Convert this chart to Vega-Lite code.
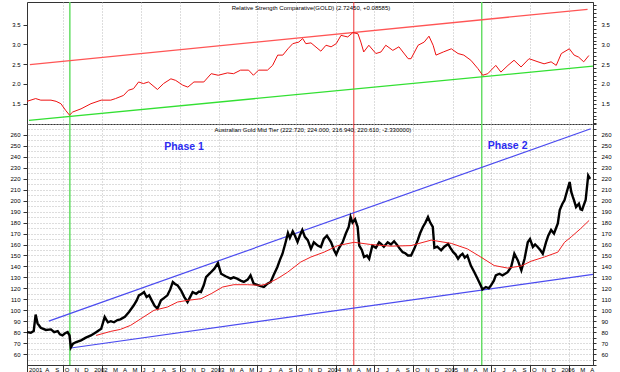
{
  "$schema": "https://vega.github.io/schema/vega-lite/v6.json",
  "padding": 0,
  "spacing": 0,
  "bounds": "flush",
  "background": "white",
  "config": {
    "font": "Liberation Sans",
    "view": {"stroke": "#333", "strokeWidth": 1},
    "axis": {"labelFont": "Liberation Sans", "labelFontSize": 6, "labelColor": "#000", "domainColor": "#333", "tickColor": "#333", "labelFlush": false, "labelBound": false, "title": null}
  },
  "datasets": {
    "vlines": [
      {"d": "2001-10-23", "kind": "trough"},
      {"d": "2004-03-29", "kind": "peak"},
      {"d": "2005-05-03", "kind": "trough"}
    ],
    "months": [
      {"d":"2001-06-11","t":"2001"},{"d":"2001-08-01","t":"A"},{"d":"2001-09-01","t":"S"},{"d":"2001-10-01","t":"O"},{"d":"2001-11-01","t":"N"},{"d":"2001-12-01","t":"D"},
      {"d":"2002-01-01","t":"2002"},{"d":"2002-03-01","t":"M"},{"d":"2002-04-01","t":"A"},{"d":"2002-05-01","t":"M"},{"d":"2002-06-01","t":"J"},{"d":"2002-07-01","t":"J"},{"d":"2002-08-01","t":"A"},{"d":"2002-09-01","t":"S"},{"d":"2002-10-01","t":"O"},{"d":"2002-11-01","t":"N"},{"d":"2002-12-01","t":"D"},
      {"d":"2003-01-01","t":"2003"},{"d":"2003-03-01","t":"M"},{"d":"2003-04-01","t":"A"},{"d":"2003-05-01","t":"M"},{"d":"2003-06-01","t":"J"},{"d":"2003-07-01","t":"J"},{"d":"2003-08-01","t":"A"},{"d":"2003-09-01","t":"S"},{"d":"2003-10-01","t":"O"},{"d":"2003-11-01","t":"N"},{"d":"2003-12-01","t":"D"},
      {"d":"2004-01-01","t":"2004"},{"d":"2004-03-01","t":"M"},{"d":"2004-04-01","t":"A"},{"d":"2004-05-01","t":"M"},{"d":"2004-06-01","t":"J"},{"d":"2004-07-01","t":"J"},{"d":"2004-08-01","t":"A"},{"d":"2004-09-01","t":"S"},{"d":"2004-10-01","t":"O"},{"d":"2004-11-01","t":"N"},{"d":"2004-12-01","t":"D"},
      {"d":"2005-01-01","t":"2005"},{"d":"2005-03-01","t":"M"},{"d":"2005-04-01","t":"A"},{"d":"2005-05-01","t":"M"},{"d":"2005-06-01","t":"J"},{"d":"2005-07-01","t":"J"},{"d":"2005-08-01","t":"A"},{"d":"2005-09-01","t":"S"},{"d":"2005-10-01","t":"O"},{"d":"2005-11-01","t":"N"},{"d":"2005-12-01","t":"D"},
      {"d":"2006-01-01","t":"2006"},{"d":"2006-03-01","t":"M"},{"d":"2006-04-01","t":"A"}
    ],
    "rs": [
      {"d":"2001-06-11","v":1.56},{"d":"2001-07-08","v":1.63},{"d":"2001-07-24","v":1.59},{"d":"2001-08-25","v":1.59},
      {"d":"2001-09-10","v":1.56},{"d":"2001-09-25","v":1.50},{"d":"2001-10-10","v":1.33},{"d":"2001-10-22","v":1.21},
      {"d":"2001-11-01","v":1.29},{"d":"2001-11-27","v":1.37},{"d":"2001-12-28","v":1.50},{"d":"2002-01-29","v":1.59},
      {"d":"2002-02-28","v":1.59},{"d":"2002-03-15","v":1.63},{"d":"2002-04-09","v":1.71},{"d":"2002-04-24","v":1.84},
      {"d":"2002-05-10","v":1.88},{"d":"2002-05-26","v":2.05},{"d":"2002-06-10","v":2.01},{"d":"2002-06-26","v":2.05},
      {"d":"2002-07-24","v":1.86},{"d":"2002-08-12","v":2.01},{"d":"2002-09-04","v":2.13},{"d":"2002-09-19","v":2.09},
      {"d":"2002-10-11","v":1.97},{"d":"2002-10-27","v":1.92},{"d":"2002-11-15","v":2.05},{"d":"2002-12-16","v":2.05},
      {"d":"2003-01-08","v":2.26},{"d":"2003-01-30","v":2.22},{"d":"2003-02-28","v":2.28},{"d":"2003-03-19","v":2.26},
      {"d":"2003-04-10","v":2.35},{"d":"2003-05-05","v":2.35},{"d":"2003-05-20","v":2.22},{"d":"2003-06-05","v":2.35},
      {"d":"2003-07-03","v":2.35},{"d":"2003-07-19","v":2.47},{"d":"2003-08-04","v":2.73},{"d":"2003-08-20","v":2.73},
      {"d":"2003-09-05","v":2.89},{"d":"2003-09-20","v":3.02},{"d":"2003-10-09","v":3.06},{"d":"2003-10-21","v":3.15},
      {"d":"2003-10-31","v":3.02},{"d":"2003-11-16","v":3.04},{"d":"2003-12-17","v":2.83},{"d":"2004-01-02","v":2.98},
      {"d":"2004-01-18","v":2.94},{"d":"2004-02-03","v":3.02},{"d":"2004-02-18","v":3.23},{"d":"2004-03-10","v":3.19},
      {"d":"2004-03-26","v":3.30},{"d":"2004-04-11","v":3.27},{"d":"2004-04-20","v":3.06},{"d":"2004-04-29","v":2.81},
      {"d":"2004-05-15","v":2.98},{"d":"2004-06-06","v":2.77},{"d":"2004-06-22","v":2.81},{"d":"2004-07-07","v":2.98},
      {"d":"2004-07-29","v":2.85},{"d":"2004-08-17","v":2.94},{"d":"2004-09-15","v":2.64},{"d":"2004-09-24","v":2.64},
      {"d":"2004-10-16","v":2.98},{"d":"2004-11-04","v":3.06},{"d":"2004-11-19","v":3.21},{"d":"2004-12-02","v":2.98},
      {"d":"2004-12-11","v":2.73},{"d":"2005-01-03","v":2.81},{"d":"2005-01-28","v":2.89},{"d":"2005-02-18","v":2.77},
      {"d":"2005-03-08","v":2.73},{"d":"2005-03-30","v":2.60},{"d":"2005-04-21","v":2.39},{"d":"2005-05-06","v":2.22},
      {"d":"2005-05-22","v":2.26},{"d":"2005-06-16","v":2.47},{"d":"2005-07-02","v":2.30},{"d":"2005-07-24","v":2.47},
      {"d":"2005-08-12","v":2.60},{"d":"2005-09-03","v":2.43},{"d":"2005-09-28","v":2.64},{"d":"2005-10-26","v":2.56},
      {"d":"2005-11-14","v":2.51},{"d":"2005-12-06","v":2.56},{"d":"2005-12-22","v":2.47},{"d":"2006-01-07","v":2.77},
      {"d":"2006-02-01","v":2.89},{"d":"2006-02-16","v":2.73},{"d":"2006-03-02","v":2.68},{"d":"2006-03-18","v":2.56},
      {"d":"2006-04-03","v":2.72}
    ],
    "rsup": [{"d":"2001-06-20","v":2.49},{"d":"2006-03-30","v":3.89}],
    "rslow": [{"d":"2001-06-17","v":1.08},{"d":"2006-04-16","v":2.45}],
    "blueup": [{"d":"2001-08-18","v":90.1},{"d":"2006-04-09","v":265.7}],
    "bluelow": [{"d":"2001-10-26","v":65.5},{"d":"2006-04-16","v":132.7}],
    "price": [
      {"d":"2001-06-11","v":80},{"d":"2001-06-23","v":79.5},{"d":"2001-07-02","v":81},{"d":"2001-07-08","v":96},
      {"d":"2001-07-14","v":88},{"d":"2001-07-24","v":84},{"d":"2001-08-09","v":82},{"d":"2001-08-25","v":82.5},
      {"d":"2001-09-04","v":80},{"d":"2001-09-15","v":81},{"d":"2001-09-22","v":78},{"d":"2001-09-30","v":77},
      {"d":"2001-10-08","v":79},{"d":"2001-10-16","v":80},{"d":"2001-10-22","v":77},{"d":"2001-10-26","v":66},
      {"d":"2001-11-02","v":69.4},{"d":"2001-11-12","v":71},{"d":"2001-11-27","v":72.5},{"d":"2001-12-12","v":75},
      {"d":"2001-12-28","v":77},{"d":"2002-01-13","v":80},{"d":"2002-01-29","v":83},{"d":"2002-02-09","v":93.8},
      {"d":"2002-02-19","v":89},{"d":"2002-02-28","v":90},{"d":"2002-03-10","v":89},{"d":"2002-03-21","v":91},
      {"d":"2002-03-30","v":91.7},{"d":"2002-04-13","v":94},{"d":"2002-04-26","v":98.4},{"d":"2002-05-11","v":104.5},
      {"d":"2002-05-20","v":109},{"d":"2002-05-27","v":113.6},{"d":"2002-06-05","v":115},{"d":"2002-06-12","v":116.6},
      {"d":"2002-06-20","v":112},{"d":"2002-06-28","v":113.6},{"d":"2002-07-06","v":109},{"d":"2002-07-15","v":104},
      {"d":"2002-07-24","v":101.4},{"d":"2002-08-04","v":109},{"d":"2002-08-13","v":111},{"d":"2002-08-24","v":113.6},
      {"d":"2002-09-02","v":119},{"d":"2002-09-10","v":125.8},{"d":"2002-09-17","v":124},{"d":"2002-09-25","v":122.7},
      {"d":"2002-10-06","v":118},{"d":"2002-10-16","v":112},{"d":"2002-10-26","v":107.5},{"d":"2002-11-03","v":112},
      {"d":"2002-11-11","v":116.6},{"d":"2002-11-22","v":115},{"d":"2002-12-01","v":117},{"d":"2002-12-07","v":116.6},
      {"d":"2002-12-16","v":123},{"d":"2002-12-23","v":130.3},{"d":"2003-01-05","v":134},{"d":"2003-01-18","v":137.9},
      {"d":"2003-01-29","v":143},{"d":"2003-02-08","v":133.3},{"d":"2003-02-22","v":131},{"d":"2003-03-10","v":128.8},
      {"d":"2003-03-19","v":130},{"d":"2003-03-30","v":128.8},{"d":"2003-04-10","v":127},{"d":"2003-04-20","v":125.8},
      {"d":"2003-05-02","v":128},{"d":"2003-05-11","v":131.9},{"d":"2003-05-21","v":124.2},{"d":"2003-06-03","v":123},
      {"d":"2003-06-12","v":122},{"d":"2003-06-22","v":121.2},{"d":"2003-07-03","v":124.2},{"d":"2003-07-13","v":125.8},
      {"d":"2003-07-22","v":132},{"d":"2003-08-03","v":139.5},{"d":"2003-08-11","v":146},{"d":"2003-08-19","v":151.6},
      {"d":"2003-08-29","v":162.3},{"d":"2003-09-05","v":170.5},{"d":"2003-09-11","v":166},{"d":"2003-09-20","v":172},
      {"d":"2003-09-27","v":168},{"d":"2003-10-05","v":162.3},{"d":"2003-10-12","v":168},{"d":"2003-10-20","v":173.3},
      {"d":"2003-10-28","v":167},{"d":"2003-11-06","v":164},{"d":"2003-11-16","v":156},{"d":"2003-11-25","v":162},
      {"d":"2003-12-07","v":159},{"d":"2003-12-17","v":157.7},{"d":"2003-12-26","v":165},{"d":"2004-01-05","v":168},
      {"d":"2004-01-18","v":162},{"d":"2004-01-27","v":155},{"d":"2004-02-03","v":151},{"d":"2004-02-12","v":157},
      {"d":"2004-02-23","v":162},{"d":"2004-03-04","v":170},{"d":"2004-03-13","v":176},{"d":"2004-03-19","v":185},
      {"d":"2004-03-25","v":180},{"d":"2004-04-02","v":183},{"d":"2004-04-10","v":176},{"d":"2004-04-15","v":159},
      {"d":"2004-04-23","v":155},{"d":"2004-04-30","v":148.6},{"d":"2004-05-09","v":150},{"d":"2004-05-16","v":147},
      {"d":"2004-05-26","v":159},{"d":"2004-06-06","v":157},{"d":"2004-06-16","v":162},{"d":"2004-06-22","v":160.5},
      {"d":"2004-07-01","v":158},{"d":"2004-07-13","v":162},{"d":"2004-07-23","v":160},{"d":"2004-08-02","v":163},
      {"d":"2004-08-13","v":159},{"d":"2004-08-20","v":156},{"d":"2004-08-29","v":153},{"d":"2004-09-06","v":152},
      {"d":"2004-09-14","v":150},{"d":"2004-09-24","v":150},{"d":"2004-10-04","v":156},{"d":"2004-10-15","v":164},
      {"d":"2004-10-22","v":170},{"d":"2004-10-31","v":176},{"d":"2004-11-08","v":180},{"d":"2004-11-16","v":185},
      {"d":"2004-11-23","v":180},{"d":"2004-12-01","v":176},{"d":"2004-12-06","v":157},{"d":"2004-12-15","v":158},
      {"d":"2004-12-27","v":154.7},{"d":"2005-01-06","v":158},{"d":"2005-01-18","v":160.5},{"d":"2005-01-25","v":157},
      {"d":"2005-02-03","v":153},{"d":"2005-02-10","v":151},{"d":"2005-02-18","v":147},{"d":"2005-02-25","v":150},
      {"d":"2005-03-04","v":151.6},{"d":"2005-03-11","v":148},{"d":"2005-03-19","v":150},{"d":"2005-03-30","v":140.8},
      {"d":"2005-04-10","v":134.7},{"d":"2005-04-20","v":128.8},{"d":"2005-04-30","v":122.7},{"d":"2005-05-05","v":119},
      {"d":"2005-05-16","v":121.2},{"d":"2005-05-25","v":120},{"d":"2005-06-01","v":122.7},{"d":"2005-06-10","v":127},
      {"d":"2005-06-16","v":131.9},{"d":"2005-06-27","v":133.3},{"d":"2005-07-07","v":131.9},{"d":"2005-07-14","v":133},
      {"d":"2005-07-23","v":134.7},{"d":"2005-08-03","v":139.5},{"d":"2005-08-13","v":151.6},{"d":"2005-08-24","v":145.5},
      {"d":"2005-09-04","v":136.4},{"d":"2005-09-14","v":147},{"d":"2005-09-24","v":162},{"d":"2005-10-01","v":165},
      {"d":"2005-10-10","v":157.7},{"d":"2005-10-17","v":160},{"d":"2005-10-25","v":157.7},{"d":"2005-11-02","v":155},
      {"d":"2005-11-10","v":151.6},{"d":"2005-11-20","v":162},{"d":"2005-11-27","v":168},{"d":"2005-12-06","v":173.3},
      {"d":"2005-12-15","v":170},{"d":"2005-12-27","v":179.3},{"d":"2006-01-02","v":191.5},{"d":"2006-01-10","v":197},
      {"d":"2006-01-17","v":200.6},{"d":"2006-01-26","v":210},{"d":"2006-02-02","v":217},{"d":"2006-02-07","v":208},
      {"d":"2006-02-12","v":203.4},{"d":"2006-02-16","v":200},{"d":"2006-02-22","v":194.2},{"d":"2006-03-03","v":197.3},
      {"d":"2006-03-08","v":192},{"d":"2006-03-13","v":191.5},{"d":"2006-03-17","v":195},{"d":"2006-03-24","v":200.6},
      {"d":"2006-04-01","v":223},{"d":"2006-04-07","v":220}
    ],
    "ma": [
      {"d":"2002-01-13","v":77},{"d":"2002-02-28","v":80.7},{"d":"2002-03-30","v":82.5},{"d":"2002-05-01","v":86.2},
      {"d":"2002-06-02","v":92.2},{"d":"2002-07-13","v":99.9},{"d":"2002-08-24","v":102.9},{"d":"2002-09-25","v":107.5},
      {"d":"2002-10-26","v":109},{"d":"2002-12-07","v":110.5},{"d":"2003-01-08","v":115.1},{"d":"2003-02-13","v":121.2},
      {"d":"2003-03-20","v":123.3},{"d":"2003-05-01","v":123.3},{"d":"2003-06-12","v":122.7},{"d":"2003-07-03","v":124.2},
      {"d":"2003-08-03","v":128.8},{"d":"2003-09-04","v":134.7},{"d":"2003-10-15","v":144},{"d":"2003-11-16","v":148.6},
      {"d":"2003-12-27","v":153},{"d":"2004-02-08","v":159},{"d":"2004-03-30","v":162},{"d":"2004-05-21","v":160},
      {"d":"2004-07-23","v":158.5},{"d":"2004-09-24","v":159},{"d":"2004-11-26","v":164},{"d":"2005-01-28","v":161},
      {"d":"2005-03-19","v":156},{"d":"2005-04-30","v":148.6},{"d":"2005-06-11","v":140.8},{"d":"2005-07-23","v":138.5},
      {"d":"2005-09-04","v":140.4},{"d":"2005-10-04","v":144.7},{"d":"2005-11-15","v":148.6},{"d":"2005-12-27","v":153},
      {"d":"2006-01-17","v":162},{"d":"2006-02-07","v":167},{"d":"2006-03-08","v":174.4},{"d":"2006-04-04","v":182}
    ]
  },
  "vconcat": [
    {
      "width": 566,
      "height": 122,
      "resolve": {"axis": {"y": "independent"}},
      "layer": [
        {
          "data": {"name": "vlines"},
          "transform": [{"filter": "datum.kind == 'trough'"}],
          "mark": {"type": "rule", "color": "#66dd66", "strokeWidth": 1.5},
          "encoding": {
            "x": {"field": "d", "type": "temporal",
              "scale": {"type": "utc", "domain": [{"year": 2001, "month": 6, "date": 11, "utc": true}, {"year": 2006, "month": 4, "date": 16, "utc": true}]},
              "axis": {"grid": true, "labels": false, "ticks": false, "domain": false, "gridColor": "#bbbbbb", "gridDash": [1, 2], "minExtent": 0, "maxExtent": 0,
                "values": [{"year":2001,"month":6,"date":11,"utc":true},{"year":2001,"month":7,"date":1,"utc":true},{"year":2001,"month":8,"date":1,"utc":true},{"year":2001,"month":9,"date":1,"utc":true},{"year":2001,"month":10,"date":1,"utc":true},{"year":2001,"month":11,"date":1,"utc":true},{"year":2001,"month":12,"date":1,"utc":true},
                  {"year":2002,"month":1,"date":1,"utc":true},{"year":2002,"month":2,"date":1,"utc":true},{"year":2002,"month":3,"date":1,"utc":true},{"year":2002,"month":4,"date":1,"utc":true},{"year":2002,"month":5,"date":1,"utc":true},{"year":2002,"month":6,"date":1,"utc":true},{"year":2002,"month":7,"date":1,"utc":true},{"year":2002,"month":8,"date":1,"utc":true},{"year":2002,"month":9,"date":1,"utc":true},{"year":2002,"month":10,"date":1,"utc":true},{"year":2002,"month":11,"date":1,"utc":true},{"year":2002,"month":12,"date":1,"utc":true},
                  {"year":2003,"month":1,"date":1,"utc":true},{"year":2003,"month":2,"date":1,"utc":true},{"year":2003,"month":3,"date":1,"utc":true},{"year":2003,"month":4,"date":1,"utc":true},{"year":2003,"month":5,"date":1,"utc":true},{"year":2003,"month":6,"date":1,"utc":true},{"year":2003,"month":7,"date":1,"utc":true},{"year":2003,"month":8,"date":1,"utc":true},{"year":2003,"month":9,"date":1,"utc":true},{"year":2003,"month":10,"date":1,"utc":true},{"year":2003,"month":11,"date":1,"utc":true},{"year":2003,"month":12,"date":1,"utc":true},
                  {"year":2004,"month":1,"date":1,"utc":true},{"year":2004,"month":2,"date":1,"utc":true},{"year":2004,"month":3,"date":1,"utc":true},{"year":2004,"month":4,"date":1,"utc":true},{"year":2004,"month":5,"date":1,"utc":true},{"year":2004,"month":6,"date":1,"utc":true},{"year":2004,"month":7,"date":1,"utc":true},{"year":2004,"month":8,"date":1,"utc":true},{"year":2004,"month":9,"date":1,"utc":true},{"year":2004,"month":10,"date":1,"utc":true},{"year":2004,"month":11,"date":1,"utc":true},{"year":2004,"month":12,"date":1,"utc":true},
                  {"year":2005,"month":1,"date":1,"utc":true},{"year":2005,"month":2,"date":1,"utc":true},{"year":2005,"month":3,"date":1,"utc":true},{"year":2005,"month":4,"date":1,"utc":true},{"year":2005,"month":5,"date":1,"utc":true},{"year":2005,"month":6,"date":1,"utc":true},{"year":2005,"month":7,"date":1,"utc":true},{"year":2005,"month":8,"date":1,"utc":true},{"year":2005,"month":9,"date":1,"utc":true},{"year":2005,"month":10,"date":1,"utc":true},{"year":2005,"month":11,"date":1,"utc":true},{"year":2005,"month":12,"date":1,"utc":true},
                  {"year":2006,"month":1,"date":1,"utc":true},{"year":2006,"month":2,"date":1,"utc":true},{"year":2006,"month":3,"date":1,"utc":true},{"year":2006,"month":4,"date":1,"utc":true}]
              }
            }
          }
        },
        {
          "data": {"name": "vlines"},
          "transform": [{"filter": "datum.kind == 'peak'"}],
          "mark": {"type": "rule", "color": "#ee3333", "strokeWidth": 1},
          "encoding": {"x": {"field": "d", "type": "temporal"}}
        },
        {
          "data": {"name": "rsup"},
          "mark": {"type": "line", "color": "#ff5555", "strokeWidth": 1.3},
          "encoding": {
            "x": {"field": "d", "type": "temporal"},
            "y": {"field": "v", "type": "quantitative", "scale": {"domain": [0.986, 4.075], "nice": false, "zero": false},
              "axis": {"orient": "right", "values": [1.0,1.1,1.2,1.3,1.4,1.5,1.6,1.7,1.8,1.9,2.0,2.1,2.2,2.3,2.4,2.5,2.6,2.7,2.8,2.9,3.0,3.1,3.2,3.3,3.4,3.5,3.6,3.7,3.8,3.9,4.0],
                "labelExpr": "(round(datum.value*10) % 5 == 0 && datum.value > 1.45 && datum.value < 3.55) ? format(datum.value, '.1f') : ''",
                "labelOverlap": false, "grid": false, "tickSize": 3, "labelPadding": 5, "minExtent": 28, "maxExtent": 28}}
          }
        },
        {
          "data": {"name": "rslow"},
          "mark": {"type": "line", "color": "#33e033", "strokeWidth": 1.3},
          "encoding": {
            "x": {"field": "d", "type": "temporal"},
            "y": {"field": "v", "type": "quantitative", "axis": null}
          }
        },
        {
          "data": {"name": "rs"},
          "mark": {"type": "line", "color": "#ee1111", "strokeWidth": 1},
          "encoding": {
            "x": {"field": "d", "type": "temporal"},
            "y": {"field": "v", "type": "quantitative",
              "axis": {"orient": "left", "values": [1.5, 2.0, 2.5, 3.0, 3.5], "format": ".1f", "grid": false, "tickSize": 4, "labelPadding": 3, "minExtent": 26, "maxExtent": 26}}
          }
        },
        {
          "data": {"values": [{}]},
          "mark": {"type": "text", "fontSize": 6, "font": "Liberation Sans", "color": "#000", "align": "center", "baseline": "middle"},
          "encoding": {
            "x": {"datum": {"year": 2003, "month": 11, "date": 16, "utc": true}, "type": "temporal"},
            "y": {"datum": 3.92, "type": "quantitative", "axis": null},
            "text": {"value": "Relative Strength Comparative(GOLD) (2.72450, +0.08585)"}
          }
        }
      ]
    },
    {
      "width": 566,
      "height": 241,
      "resolve": {"axis": {"y": "independent"}},
      "layer": [
        {
          "data": {"name": "vlines"},
          "transform": [{"filter": "datum.kind == 'trough'"}],
          "mark": {"type": "rule", "color": "#66dd66", "strokeWidth": 1.5},
          "encoding": {
            "x": {"field": "d", "type": "temporal",
              "scale": {"type": "utc", "domain": [{"year": 2001, "month": 6, "date": 11, "utc": true}, {"year": 2006, "month": 4, "date": 16, "utc": true}]},
              "axis": {"grid": true, "gridColor": "#bbbbbb", "gridDash": [1, 2], "labels": false, "tickSize": 9, "minExtent": 9, "maxExtent": 9,
                "values": [{"year":2001,"month":6,"date":11,"utc":true},{"year":2001,"month":7,"date":1,"utc":true},{"year":2001,"month":8,"date":1,"utc":true},{"year":2001,"month":9,"date":1,"utc":true},{"year":2001,"month":10,"date":1,"utc":true},{"year":2001,"month":11,"date":1,"utc":true},{"year":2001,"month":12,"date":1,"utc":true},
                  {"year":2002,"month":1,"date":1,"utc":true},{"year":2002,"month":2,"date":1,"utc":true},{"year":2002,"month":3,"date":1,"utc":true},{"year":2002,"month":4,"date":1,"utc":true},{"year":2002,"month":5,"date":1,"utc":true},{"year":2002,"month":6,"date":1,"utc":true},{"year":2002,"month":7,"date":1,"utc":true},{"year":2002,"month":8,"date":1,"utc":true},{"year":2002,"month":9,"date":1,"utc":true},{"year":2002,"month":10,"date":1,"utc":true},{"year":2002,"month":11,"date":1,"utc":true},{"year":2002,"month":12,"date":1,"utc":true},
                  {"year":2003,"month":1,"date":1,"utc":true},{"year":2003,"month":2,"date":1,"utc":true},{"year":2003,"month":3,"date":1,"utc":true},{"year":2003,"month":4,"date":1,"utc":true},{"year":2003,"month":5,"date":1,"utc":true},{"year":2003,"month":6,"date":1,"utc":true},{"year":2003,"month":7,"date":1,"utc":true},{"year":2003,"month":8,"date":1,"utc":true},{"year":2003,"month":9,"date":1,"utc":true},{"year":2003,"month":10,"date":1,"utc":true},{"year":2003,"month":11,"date":1,"utc":true},{"year":2003,"month":12,"date":1,"utc":true},
                  {"year":2004,"month":1,"date":1,"utc":true},{"year":2004,"month":2,"date":1,"utc":true},{"year":2004,"month":3,"date":1,"utc":true},{"year":2004,"month":4,"date":1,"utc":true},{"year":2004,"month":5,"date":1,"utc":true},{"year":2004,"month":6,"date":1,"utc":true},{"year":2004,"month":7,"date":1,"utc":true},{"year":2004,"month":8,"date":1,"utc":true},{"year":2004,"month":9,"date":1,"utc":true},{"year":2004,"month":10,"date":1,"utc":true},{"year":2004,"month":11,"date":1,"utc":true},{"year":2004,"month":12,"date":1,"utc":true},
                  {"year":2005,"month":1,"date":1,"utc":true},{"year":2005,"month":2,"date":1,"utc":true},{"year":2005,"month":3,"date":1,"utc":true},{"year":2005,"month":4,"date":1,"utc":true},{"year":2005,"month":5,"date":1,"utc":true},{"year":2005,"month":6,"date":1,"utc":true},{"year":2005,"month":7,"date":1,"utc":true},{"year":2005,"month":8,"date":1,"utc":true},{"year":2005,"month":9,"date":1,"utc":true},{"year":2005,"month":10,"date":1,"utc":true},{"year":2005,"month":11,"date":1,"utc":true},{"year":2005,"month":12,"date":1,"utc":true},
                  {"year":2006,"month":1,"date":1,"utc":true},{"year":2006,"month":2,"date":1,"utc":true},{"year":2006,"month":3,"date":1,"utc":true},{"year":2006,"month":4,"date":1,"utc":true}]
              }
            }
          }
        },
        {
          "data": {"name": "vlines"},
          "transform": [{"filter": "datum.kind == 'peak'"}],
          "mark": {"type": "rule", "color": "#ee3333", "strokeWidth": 1},
          "encoding": {"x": {"field": "d", "type": "temporal"}}
        },
        {
          "data": {"name": "blueup"},
          "mark": {"type": "line", "color": "#4b4bf0", "strokeWidth": 1.2},
          "encoding": {
            "x": {"field": "d", "type": "temporal"},
            "y": {"field": "v", "type": "quantitative", "scale": {"domain": [50, 270], "nice": false, "zero": false},
              "axis": {"orient": "right", "values": [50,55,60,65,70,75,80,85,90,95,100,105,110,115,120,125,130,135,140,145,150,155,160,165,170,175,180,185,190,195,200,205,210,215,220,225,230,235,240,245,250,255,260,265,270],
                "labelExpr": "(datum.value % 10 == 0 && datum.value >= 60 && datum.value <= 260) ? datum.label : ''",
                "labelOverlap": false, "grid": true, "gridColor": "#bbbbbb", "gridDash": [1, 2], "tickSize": 3, "labelPadding": 5, "minExtent": 28, "maxExtent": 28}}
          }
        },
        {
          "data": {"name": "bluelow"},
          "mark": {"type": "line", "color": "#4b4bf0", "strokeWidth": 1.2},
          "encoding": {
            "x": {"field": "d", "type": "temporal"},
            "y": {"field": "v", "type": "quantitative", "axis": null}
          }
        },
        {
          "data": {"name": "price"},
          "mark": {"type": "line", "color": "#000000", "strokeWidth": 2.4},
          "encoding": {
            "x": {"field": "d", "type": "temporal"},
            "y": {"field": "v", "type": "quantitative",
              "axis": {"orient": "left", "values": [60,70,80,90,100,110,120,130,140,150,160,170,180,190,200,210,220,230,240,250,260], "grid": false, "tickSize": 4, "labelPadding": 3, "minExtent": 26, "maxExtent": 26}}
          }
        },
        {
          "data": {"name": "ma"},
          "mark": {"type": "line", "color": "#f02020", "strokeWidth": 1},
          "encoding": {
            "x": {"field": "d", "type": "temporal"},
            "y": {"field": "v", "type": "quantitative", "axis": null}
          }
        },
        {
          "data": {"name": "months"},
          "mark": {"type": "text", "fontSize": 6, "font": "Liberation Sans", "color": "#000", "align": "left", "baseline": "middle", "dx": 2, "clip": false},
          "encoding": {
            "x": {"field": "d", "type": "temporal"},
            "y": {"datum": 45.8, "type": "quantitative", "axis": null},
            "text": {"field": "t", "type": "nominal"}
          }
        },
        {
          "data": {"values": [{}]},
          "mark": {"type": "text", "fontSize": 6, "font": "Liberation Sans", "color": "#000", "align": "center", "baseline": "middle"},
          "encoding": {
            "x": {"datum": {"year": 2003, "month": 11, "date": 22, "utc": true}, "type": "temporal"},
            "y": {"datum": 264.6, "type": "quantitative", "axis": null},
            "text": {"value": "Australian Gold Mid Tier (222.720, 224.000, 216.940, 220.610, -2.330000)"}
          }
        },
        {
          "data": {"values": [{}]},
          "mark": {"type": "text", "fontSize": 10.5, "fontWeight": "bold", "font": "Liberation Sans", "color": "#2b2bf0", "align": "center", "baseline": "middle"},
          "encoding": {
            "x": {"datum": {"year": 2002, "month": 10, "date": 15, "utc": true}, "type": "temporal"},
            "y": {"datum": 249, "type": "quantitative", "axis": null},
            "text": {"value": "Phase 1"}
          }
        },
        {
          "data": {"values": [{}]},
          "mark": {"type": "text", "fontSize": 10.5, "fontWeight": "bold", "font": "Liberation Sans", "color": "#2b2bf0", "align": "center", "baseline": "middle"},
          "encoding": {
            "x": {"datum": {"year": 2005, "month": 7, "date": 23, "utc": true}, "type": "temporal"},
            "y": {"datum": 250, "type": "quantitative", "axis": null},
            "text": {"value": "Phase 2"}
          }
        }
      ]
    }
  ]
}
